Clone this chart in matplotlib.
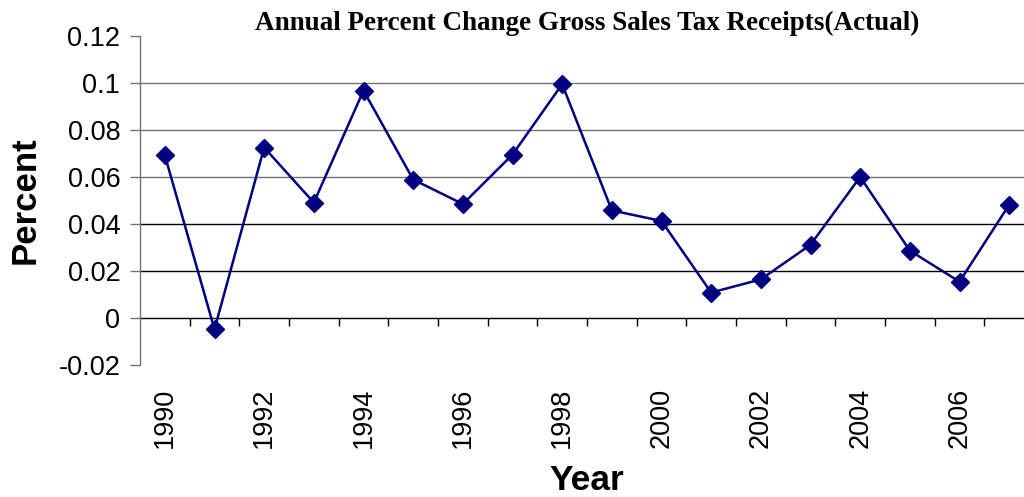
import matplotlib
matplotlib.use("Agg")
import matplotlib.pyplot as plt
from matplotlib.ticker import FixedLocator

# annual percent change in gross sales tax receipts
years = list(range(1990, 2008))
pct_change = [
    0.0692, -0.0047, 0.0725, 0.0491, 0.0967, 0.0589, 0.0485, 0.0695, 0.0994,
    0.0458, 0.0413, 0.0109, 0.0165, 0.0312, 0.0600, 0.0287, 0.0155, 0.0482,
]
y_ticks = [-0.02, 0, 0.02, 0.04, 0.06, 0.08, 0.1, 0.12]
y_tick_labels = ["-0.02", "0", "0.02", "0.04", "0.06", "0.08", "0.1", "0.12"]

W, H, DPI = 1024, 497, 100
fig = plt.figure(figsize=(W / DPI, H / DPI), dpi=DPI)
fig.patch.set_facecolor("white")

# plot area runs a little past the right edge of the canvas
left, right, top, bottom = 140, 1034, 35.7, 365.3
ax = fig.add_axes([left / W, 1 - bottom / H, (right - left) / W, (bottom - top) / H])

pos = list(range(len(years)))
ax.set_xlim(-0.5, len(years) - 0.5)
ax.set_ylim(-0.02, 0.12)

# horizontal gridlines
for yv in [0.02, 0.04, 0.06, 0.08, 0.1]:
    col = "black" if yv < 0.05 else "0.45"
    ax.axhline(yv, color=col, linewidth=1.0, zorder=1)

ax.plot(pos, pct_change, color="#000080", linewidth=1.8, marker="D",
        markersize=9, markerfacecolor="#000080", markeredgecolor="#000080",
        zorder=3, clip_on=False)

for side in ["top", "right", "bottom"]:
    ax.spines[side].set_visible(False)
ax.spines["left"].set_color("0.45")
ax.spines["left"].set_linewidth(1.0)

# category axis sits on the zero line, with marks between categories
ax.axhline(0, color="black", linewidth=1.0, zorder=2)
bounds = [p + 0.5 for p in pos[:-1]] + [len(years) - 0.5]
ax.vlines(bounds, 0, -0.0034, color="black", linewidth=1.0, zorder=2)

ax.set_yticks(y_ticks)
ax.set_yticklabels(y_tick_labels, fontsize=19.5, fontfamily="Liberation Sans")
ax.tick_params(axis="y", direction="out", length=7.2, width=1.0,
               color="0.45", pad=7)

# year labels every other category, below the plot area
ax.xaxis.set_major_locator(FixedLocator(pos[::2]))
ax.set_xticklabels([str(y) for y in years[::2]], rotation=90,
                   fontsize=19.5, fontfamily="Liberation Sans", va="top")
ax.tick_params(axis="x", which="major", length=0, pad=16)

fig.text((left + right) / 2 / W, 1 - 30 / H,
         "Annual Percent Change Gross Sales Tax Receipts(Actual)",
         ha="center", va="baseline", fontsize=19.5, fontweight="bold",
         fontfamily="Liberation Serif")
fig.text(25 / W, 1 - 200.5 / H, "Percent", rotation=90, ha="center",
         va="center", fontsize=25, fontweight="bold",
         fontfamily="Liberation Sans")
fig.text((left + right) / 2 / W, 1 - 490 / H, "Year", ha="center",
         va="baseline", fontsize=25.5, fontweight="bold",
         fontfamily="Liberation Sans")

fig.savefig("out.png", dpi=DPI)
